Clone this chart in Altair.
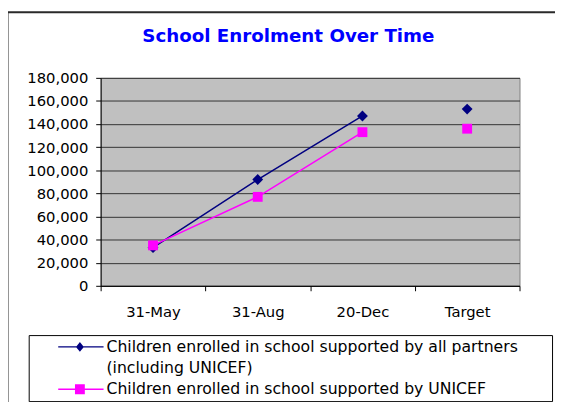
import altair as alt
import pandas as pd

# ---- data ----
dates = ["31-May", "31-Aug", "20-Dec", "Target"]
series_names = [
    "Children enrolled in school supported by all partners (including UNICEF)",
    "Children enrolled in school supported by UNICEF",
]
all_partners = [33000, 92000, 147000, 153000]
unicef_only = [35000, 77000, 133000, 136000]
y_ticks = [0, 20000, 40000, 60000, 80000, 100000, 120000, 140000, 160000, 180000]
legend_labels = [
    "Children enrolled in school supported by all partners",
    "(including UNICEF)",
    "Children enrolled in school supported by UNICEF",
]

# ---- styles ----
series_colors = ["#000080", "#FF00FF"]
series_shapes = ["diamond", "square"]
series_sizes = [121, 100]
FONT = "DejaVu Sans"

rows = []
for name, vals in zip(series_names, [all_partners, unicef_only]):
    for d, v in zip(dates, vals):
        rows.append({"series": name, "date": d, "value": v})
df = pd.DataFrame(rows)

legend_df = pd.DataFrame({"entry": legend_labels})
# legend symbols: a thin filled bar (the line) plus the marker
legend_paths = [
    "M3.6,-0.15L12.8,-0.15L12.8,0.15L3.6,0.15ZM7.2,0L8.0,-1.0L8.8,0L8.0,1.0Z",
    "M0,0Z",
    "M3.6,-0.15L12.8,-0.15L12.8,0.15L3.6,0.15ZM7.0,-1.0L9.0,-1.0L9.0,1.0L7.0,1.0Z",
]
legend_colors = ["#000080", "#FFFFFF", "#FF00FF"]

x_enc = alt.X(
    "date:N",
    sort=dates,
    scale=alt.Scale(type="band", domain=dates, paddingInner=0, paddingOuter=0),
    axis=alt.Axis(
        title=None,
        grid=False,
        tickBand="extent",
        tickSize=5,
        labelPadding=14,
        labelAngle=0,
    ),
)
y_enc = alt.Y(
    "value:Q",
    scale=alt.Scale(domain=[0, 180000], nice=False, zero=True),
    axis=alt.Axis(
        title=None,
        values=y_ticks,
        format=",.0f",
        grid=True,
        gridColor="#333333",
        gridWidth=1,
        tickSize=5,
        labelPadding=8,
    ),
)
color_enc = alt.Color(
    "series:N",
    scale=alt.Scale(domain=series_names, range=series_colors),
    legend=None,
)

lines = (
    alt.Chart(df)
    .transform_filter(alt.datum.date != "Target")
    .mark_line(strokeWidth=1.5)
    .encode(x=x_enc, y=y_enc, color=color_enc, detail="series:N")
)

points = (
    alt.Chart(df)
    .mark_point(filled=True, opacity=1)
    .encode(
        x=x_enc,
        y=y_enc,
        color=color_enc,
        shape=alt.Shape("series:N", scale=alt.Scale(domain=series_names, range=series_shapes), legend=None),
        size=alt.Size("series:N", scale=alt.Scale(domain=series_names, range=series_sizes), legend=None),
    )
)

legend_spec = alt.Legend(
    title="\u00a0",
    titleOrient="right",
    titlePadding=31,
    titleFontSize=4,
    orient="none",
    legendX=-73,
    legendY=261,
    direction="vertical",
    strokeColor="#000000",
    fillColor="#FFFFFF",
    padding=4,
    labelFont=FONT,
    labelFontSize=15.9,
    labelColor="#000000",
    labelLimit=1000,
    labelOffset=59,
    labelBaseline="middle",
    rowPadding=4.5,
    symbolSize=100,
    symbolStrokeWidth=0,
    symbolOpacity=1,
)

legend_layer = (
    alt.Chart(legend_df)
    .transform_filter("false")
    .mark_point(filled=True, opacity=1)
    .encode(
        color=alt.Color("entry:N", scale=alt.Scale(domain=legend_labels, range=legend_colors), legend=legend_spec),
        shape=alt.Shape("entry:N", scale=alt.Scale(domain=legend_labels, range=legend_paths), legend=legend_spec),
    )
)

frame = (
    alt.Chart(alt.Data(values=[{"k": 1}]))
    .mark_rect(fill="#FFFFFF", fillOpacity=0, stroke="#2a2a2a", strokeWidth=2)
    .encode(
        x=alt.value(-94.5),
        y=alt.value(-66.5),
        x2=alt.value(520),
        y2=alt.value(360),
    )
)

chart = (
    alt.layer(frame, lines, points, legend_layer)
    .resolve_scale(shape="independent", color="independent", size="independent")
    .properties(
        width=425,
        height=211,
        autosize=alt.AutoSizeParams(type="none"),
        padding={"left": 94, "top": 68, "right": 36, "bottom": 115},
        background="#FFFFFF",
        view=alt.ViewBackground(fill="#C0C0C0", stroke="#808080", strokeWidth=1),
        title=alt.TitleParams(
            "School Enrolment Over Time",
            font=FONT,
            fontSize=18.5,
            fontWeight="bold",
            color="#0000FF",
            anchor="middle",
            frame="group",
            baseline="alphabetic",
            dx=-22,
            offset=-50,
        ),
    )
    .configure_view(fill="#C0C0C0", stroke="#808080", strokeWidth=1)
    .configure_axis(
        labelFont=FONT,
        labelFontSize=15,
        labelColor="#000000",
        domainColor="#000000",
        domainWidth=1,
        tickColor="#000000",
        tickWidth=1,
    )
)

chart.save("out.html", embed_options={"renderer": "svg", "actions": False})
